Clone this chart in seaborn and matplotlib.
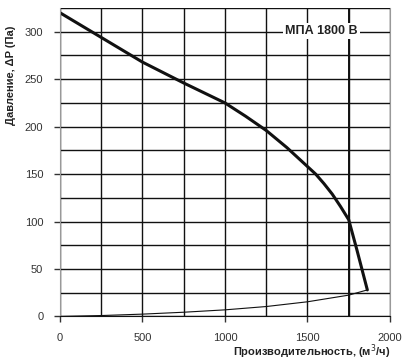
import numpy as np
import pandas as pd
import seaborn as sns
import matplotlib.pyplot as plt

# fan curve (pressure vs flow)
flow = [0, 250, 500, 750, 1000, 1125, 1250, 1375, 1500, 1550, 1600, 1650, 1700, 1750, 1775, 1800, 1830, 1863]
pressure = [320, 294, 268, 246, 225, 211, 196, 178, 158, 150, 140, 129, 116, 102, 86, 70, 50, 28]

# system resistance curve
sys_flow = [0, 250, 500, 750, 1000, 1250, 1500, 1750, 1863]
sys_pressure = [0, 1, 2.5, 4.5, 7, 10.5, 15.5, 22.5, 28]

x_ticks = [0, 500, 1000, 1500, 2000]
y_ticks = [0, 50, 100, 150, 200, 250, 300]
model_name = "МПА 1800 В"

sns.set_style("white")
plt.rcParams['font.family'] = ['Liberation Sans', 'DejaVu Sans']

fan = pd.DataFrame({"flow": flow, "pressure": pressure})
system = pd.DataFrame({"flow": sys_flow, "pressure": sys_pressure})

fig = plt.figure(figsize=(4.04, 3.64), dpi=100)
ax = fig.add_axes([0.1485, 0.1305, 0.8167, 0.8475])

sns.lineplot(data=fan, x="flow", y="pressure", ax=ax, color="#111111", linewidth=2.2, sort=False)
sns.lineplot(data=system, x="flow", y="pressure", ax=ax, color="#111111", linewidth=0.8, sort=False)

ax.set_xlim(0, 2000)
ax.set_ylim(0, 325)
ax.set_xticks(np.arange(0, 2001, 250), minor=True)
ax.set_yticks(np.arange(0, 326, 25), minor=True)
ax.set_xticks(x_ticks)
ax.set_yticks(y_ticks)
ax.grid(True, which="both", color="#111111", linewidth=1.0)
ax.axvline(1750, color="#111111", linewidth=1.4)
ax.tick_params(which="major", length=4, width=1, color="#333333", labelsize=8, labelcolor="#333333", pad=8)
ax.tick_params(which="minor", length=0)
ax.tick_params(axis="x", bottom=True)
ax.tick_params(axis="y", left=True)

for side in ["left", "right", "top"]:
    ax.spines[side].set_color("#999999")
ax.spines["top"].set_visible(False)
ax.spines["bottom"].set_color("#111111")

ax.text(1583, 301, model_name, fontsize=9, fontweight="bold", color="#222222",
        ha="center", va="center", bbox=dict(facecolor="white", edgecolor="none", pad=1.5))

ax.set_xlabel("")
ax.set_ylabel("")
fig.text(0.965, 0.033, "Производительность, (м$^3$/ч)", fontsize=8, fontweight="bold",
         color="#222222", ha="right", va="center")
fig.text(0.027, 0.794, "Давление, ΔP (Па)", fontsize=8, fontweight="bold",
         color="#222222", ha="center", va="center", rotation=90)

fig.savefig("out.png", dpi=100)
